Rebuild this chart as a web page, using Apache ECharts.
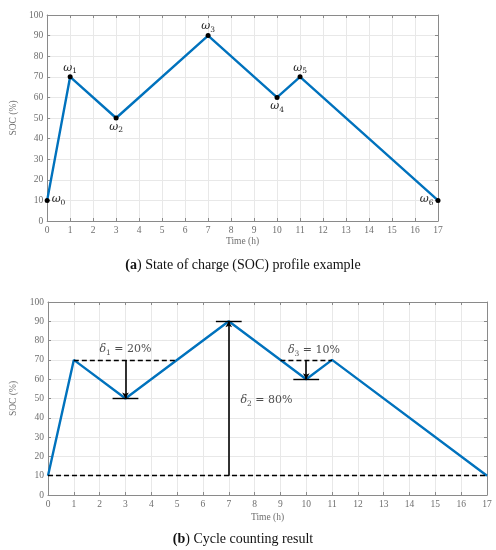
<!DOCTYPE html>
<html><head><meta charset="utf-8">
<script src="https://cdn.jsdelivr.net/npm/echarts@6/dist/echarts.min.js"></script>
<style>html,body{margin:0;padding:0;background:#fff}#c{width:496px;height:550px}</style>
</head><body><div id="c"></div>
<script>
// ---- data ----
const hours = [0, 1, 3, 7, 10, 11, 17];
const soc = [10, 70, 50, 90, 60, 70, 10];
const pointSymbol = 'ω';
const pointIndex = ['0', '1', '2', '3', '4', '5', '6'];
const pointLabelPos = ['right', 'top', 'bottom', 'top', 'bottom', 'top', 'left'];
const xRange = [0, 17];
const yRange = [0, 100];
// reference (dashed) lines of the cycle counting
const refY = [70, 10, 70];
const refFrom = [1, 0, 9];
const refTo = [5, 17, 11];
// counted cycles: vertical arrows
const cycleX = [3, 7, 10];
const cycleStart = [70, 10, 70];
const cycleEnd = [50, 90, 60];
const cycleIndex = ['1', '2', '3'];
const cycleDepth = ['20%', '80%', '10%'];
const cycleTextX = [3, 7.45, 10.3];
const cycleTextY = [75.5, 49, 75];
const cycleTextAlign = ['center', 'left', 'center'];
const captions = ['a', 'b'];
const captionText = [') State of charge (SOC) profile example', ') Cycle counting result'];

// ---- styles ----
const BLUE = '#0072BD';
const AXIS = '#8a8a8a';
const LABEL = '#6e6e6e';
const SERIF = 'Liberation Serif';
const MATH = 'DejaVu Serif';

const grids = [
  { left: 37, right: 58, top: 15, bottom: 329 },
  { left: 43, right: 9, top: 302, bottom: 55 }
];

const mathRich = {
  w: { fontFamily: MATH, fontStyle: 'italic', fontSize: 11, lineHeight: 15, verticalAlign: 'middle', color: '#222' },
  s: { fontFamily: MATH, fontSize: 7.5, lineHeight: 9, verticalAlign: 'bottom', color: '#222' },
  t: { fontFamily: MATH, fontSize: 11, lineHeight: 15, verticalAlign: 'middle', color: '#222' }
};

function xAx(gi, pos) {
  const main = pos === 'bottom';
  return {
    type: 'value', gridIndex: gi, position: pos, min: xRange[0], max: xRange[1], interval: 1,
    name: main ? 'Time (h)' : '', nameLocation: 'middle', nameGap: gi === 0 ? 15 : 17,
    nameTextStyle: { color: LABEL, fontFamily: SERIF, fontSize: 9.5 },
    axisLine: { show: true, onZero: false, lineStyle: { color: AXIS, width: 1 } },
    axisTick: { show: true, inside: true, length: 3, lineStyle: { color: AXIS } },
    axisLabel: { show: main, color: LABEL, fontFamily: SERIF, fontSize: 9.5, margin: 4 },
    splitLine: { show: main, lineStyle: { color: '#e8e8e8', width: 1 } }
  };
}
function yAx(gi, pos) {
  const main = pos === 'left';
  return {
    type: 'value', gridIndex: gi, position: pos, min: yRange[0], max: yRange[1], interval: 10,
    name: main ? 'SOC (%)' : '', nameLocation: 'middle', nameGap: gi === 0 ? 22 : 30,
    nameTextStyle: { color: LABEL, fontFamily: SERIF, fontSize: 9.5 },
    axisLine: { show: true, onZero: false, lineStyle: { color: AXIS, width: 1 } },
    axisTick: { show: true, inside: true, length: 3, lineStyle: { color: AXIS } },
    axisLabel: { show: main, color: LABEL, fontFamily: SERIF, fontSize: 9.5, margin: 4 },
    splitLine: { show: main, lineStyle: { color: '#e8e8e8', width: 1 } }
  };
}

const profile = hours.map((h, i) => [h, soc[i]]);

const markLines = [];
refY.forEach((y, i) => {
  markLines.push([{ coord: [refFrom[i], y], lineStyle: { type: [5, 3], width: 1.3, color: '#000' } },
                  { coord: [refTo[i], y] }]);
});
cycleX.forEach((x, i) => {
  markLines.push([{ coord: [x, cycleStart[i]], symbol: 'none', lineStyle: { type: 'solid', width: 1.6, color: '#000' } },
                  { coord: [x, cycleEnd[i]], symbol: 'arrow', symbolSize: [5, 6] }]);
  markLines.push([{ coord: [x - 0.5, cycleEnd[i]], lineStyle: { type: 'solid', width: 1.4, color: '#000' } },
                  { coord: [x + 0.5, cycleEnd[i]] }]);
});

function labelPlacement(pos) {
  if (pos === 'top') return { position: 'top', distance: 0, offset: [0, 1] };
  if (pos === 'bottom') return { position: 'bottom', distance: 0, offset: [0, -1] };
  return { position: pos, distance: 2, offset: [0, -1] };
}

const option = {
  animation: false,
  backgroundColor: '#fff',
  title: captions.map((c, i) => ({
    text: '{b|(' + c + '}{n|' + captionText[i] + '}',
    left: 238, top: i === 0 ? 253 : 527, textAlign: 'center',
    textStyle: { fontWeight: 'normal', rich: {
      b: { fontFamily: SERIF, fontSize: 14, fontWeight: 'bold', color: '#111' },
      n: { fontFamily: SERIF, fontSize: 14, fontWeight: 'normal', color: '#111' }
    } }
  })),
  grid: grids,
  xAxis: [xAx(0, 'bottom'), xAx(0, 'top'), xAx(1, 'bottom'), xAx(1, 'top')],
  yAxis: [yAx(0, 'left'), yAx(0, 'right'), yAx(1, 'left'), yAx(1, 'right')],
  series: [
    {
      type: 'line', xAxisIndex: 0, yAxisIndex: 0,
      data: profile.map((d, i) => ({ value: d, label: labelPlacement(pointLabelPos[i]) })),
      lineStyle: { color: BLUE, width: 2.4 }, symbol: 'circle', symbolSize: 5,
      itemStyle: { color: '#000' }, z: 3,
      label: { show: true, formatter: p => '{w|' + pointSymbol + '}{s|' + pointIndex[p.dataIndex] + '}', rich: mathRich },
      emphasis: { disabled: true }
    },
    {
      type: 'line', xAxisIndex: 2, yAxisIndex: 2, data: profile,
      lineStyle: { color: BLUE, width: 2.4 }, symbol: 'none', z: 3,
      emphasis: { disabled: true },
      markLine: { silent: true, symbol: 'none', label: { show: false }, animation: false, data: markLines }
    },
    {
      type: 'scatter', xAxisIndex: 2, yAxisIndex: 2, symbolSize: 0, silent: true,
      data: cycleDepth.map((t, i) => ({ value: [cycleTextX[i], cycleTextY[i]],
        label: { align: cycleTextAlign[i] } })),
      label: { show: true, position: 'inside',
               formatter: p => '{w|δ}{s|' + cycleIndex[p.dataIndex] + '}{t| = ' + cycleDepth[p.dataIndex] + '}',
               rich: mathRich }
    }
  ]
};

const chart = echarts.init(document.getElementById('c'), null, { renderer: 'canvas' });
chart.setOption(option);
</script></body></html>
